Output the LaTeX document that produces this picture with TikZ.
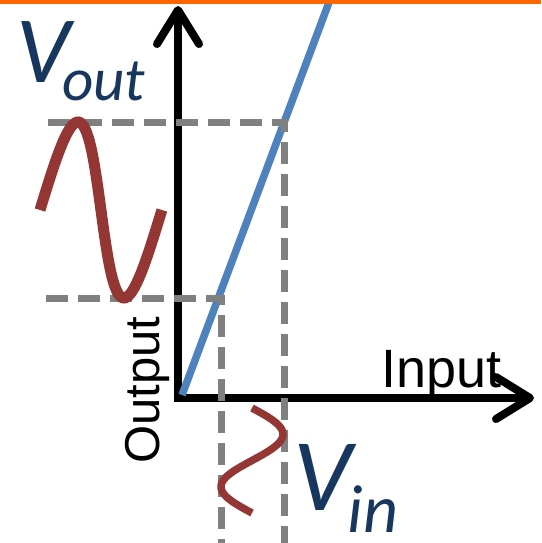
\documentclass[tikz,border=0pt]{standalone}
\usepackage{fontspec}
\setmainfont{Liberation Sans}
\newfontfamily\calfont{Carlito}
\usetikzlibrary{arrows.meta}
\definecolor{vblue}{HTML}{17375E}
\definecolor{lineblue}{HTML}{4F81BD}
\definecolor{sinered}{HTML}{943634}
\definecolor{guidegray}{HTML}{808080}
\definecolor{topbar}{HTML}{FF6600}
\tikzset{
  barb/.tip={Straight Barb[round,length=34pt,width=42pt]},
  axis/.style={line width=8pt, line join=miter, barb-barb},
  guide/.style={guidegray, line width=7pt, dash pattern=on 22pt off 10pt},
  wave/.style={sinered, line width=11pt},
  vlabel/.style={vblue, inner sep=0pt, anchor=base west, text depth=0pt, font=\calfont\itshape},
  axlabel/.style={inner sep=0pt, anchor=base west},
}

\begin{document}
\begin{tikzpicture}[x=1pt,y=-1pt]
\useasboundingbox (0,0) rectangle (541,543);
\coordinate (Y) at (178,6);
\coordinate (O) at (178,398);
\coordinate (X) at (534,398);
\coordinate (P0) at (182,395);
\coordinate (P1) at (331,-3);
\coordinate (A1) at (48,122);
\coordinate (A2) at (284,122);
\coordinate (A3) at (284,545);
\coordinate (B1) at (46,298);
\coordinate (B2) at (221,298);
\coordinate (B3) at (221,545);
\coordinate (L0) at (0,2);
\coordinate (L1) at (541,2);

\draw[axis] (Y) -- (O) -- (X);
\draw[lineblue, line width=7.5pt] (P0) -- (P1);
\draw[guide] (A1) -- (A2) -- (A3);
\draw[guide] (B1) -- (B2) -- (B3);
\draw[wave] plot[domain=0:360, samples=80, smooth]
  ({40+0.3386*\x+7.5*sin(\x)}, {210-88*sin(\x)});
\draw[wave, line width=7.5pt] plot[domain=0:360, samples=60, smooth]
  ({252+31*sin(\x)}, {408+0.29167*\x});
\draw[topbar, line width=4pt] (L0) -- (L1);

\node[vlabel] (Vo) at (16,82)
  {{\fontsize{95}{95}\selectfont V}\kern-8pt\raisebox{-18pt}{\fontsize{61}{61}\selectfont out}};
\node[vlabel] (Vi) at (293,510)
  {{\fontsize{103}{103}\selectfont V}\kern-4pt\raisebox{-22pt}{\fontsize{68}{68}\selectfont in}};
\node[axlabel, font=\fontsize{54}{54}\selectfont] (In) at (381,387) {Input};
\node[axlabel, rotate=90, font=\fontsize{49}{49}\selectfont] (Out) at (159,464) {Output};
\end{tikzpicture}
\end{document}
